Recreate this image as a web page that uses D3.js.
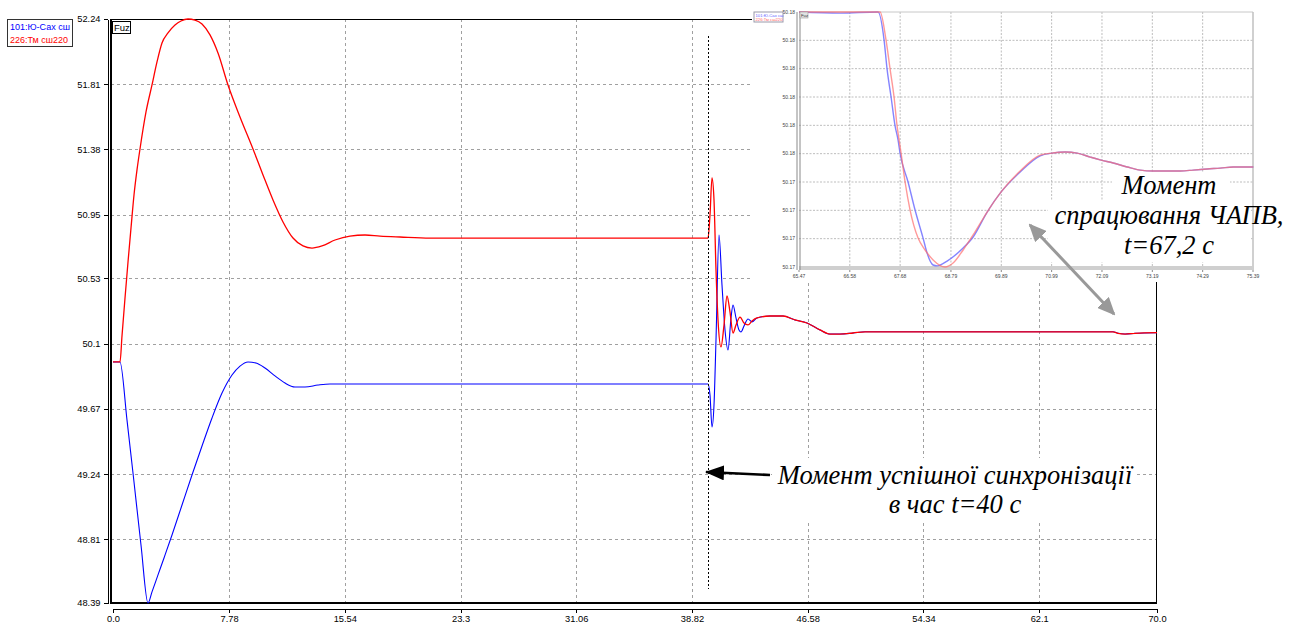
<!DOCTYPE html>
<html><head><meta charset="utf-8">
<script src="https://cdn.jsdelivr.net/npm/d3@7"></script>
<style>body{margin:0;background:#fff}svg{display:block}</style>
</head><body><svg id="c" width="1294" height="625"></svg>
<script>
// ---------- data ----------
const seriesNames = ["101:Ю-Сах сш", "226:Тм сш220"];
const seriesColors = ["#0000ff", "#ff0000"];
const xTicks = [0, 7.78, 15.54, 23.3, 31.06, 38.82, 46.58, 54.34, 62.1, 70.0];
const yTicks = [48.39, 48.81, 49.24, 49.67, 50.1, 50.53, 50.95, 51.38, 51.81, 52.24];

const commonTail = [[43.181,50.269],[44.052,50.282],[44.924,50.282],[45.729,50.256],[46.533,50.236],[47.405,50.19],[48.076,50.163],[48.746,50.163],[49.618,50.17],[50.422,50.178],[67.05,50.178],[67.39,50.168],[67.86,50.163],[68.53,50.168],[70,50.172]];

const blueData = [[0,49.979],[0.469,49.979],[0.939,49.596],[1.408,49.188],[1.877,48.772],[2.347,48.39],[2.615,48.463],[3.017,48.575],[3.42,48.687],[3.956,48.838],[4.627,49.036],[5.297,49.234],[5.968,49.425],[6.638,49.61],[7.309,49.774],[7.979,49.893],[8.515,49.952],[9.052,49.979],[9.588,49.972],[10.192,49.939],[10.862,49.887],[11.533,49.84],[12.203,49.814],[12.874,49.814],[13.746,49.827],[14.55,49.834],[39.895,49.834],
[40.029,49.761],[40.163,49.55],[40.297,49.695],[40.431,50.124],[40.632,50.816],[40.833,50.486],[41.035,50.19],[41.236,50.058],[41.437,50.269],[41.571,50.355],[41.772,50.269],[41.973,50.19],[42.107,50.177],[42.309,50.216],[42.577,50.262],[42.845,50.243]];

const redData = [[0,49.979],[0.469,49.979],[0.603,50.15],[0.805,50.401],[1.006,50.638],[1.207,50.862],[1.408,51.08],[1.609,51.245],[1.81,51.383],[2.213,51.627],[2.615,51.805],[2.95,51.957],[3.285,52.082],[3.688,52.148],[4.157,52.2],[4.559,52.227],[5.029,52.24],[5.498,52.233],[5.968,52.207],[6.504,52.135],[7.04,52.016],[7.711,51.805],[8.515,51.594],[9.387,51.383],[10.058,51.212],[10.728,51.047],[11.399,50.902],[12.069,50.796],[12.74,50.744],[13.343,50.73],[14.014,50.744],[14.886,50.783],[15.891,50.809],[16.897,50.816],[17.903,50.809],[19.244,50.803],[21.256,50.796],[39.895,50.796],
[40.029,50.948],[40.163,51.192],[40.297,51.047],[40.431,50.585],[40.566,50.256],[40.767,50.078],[40.968,50.223],[41.169,50.414],[41.37,50.308],[41.571,50.17],[41.772,50.223],[42.041,50.275],[42.309,50.236],[42.577,50.223],[42.845,50.249]];

// inset (zoomed) chart
const insetXTicks = [65.47, 66.58, 67.68, 68.79, 69.89, 70.99, 72.09, 73.19, 74.29, 75.39];
const insetYTicks = [50.1716, 50.1726, 50.1736, 50.1746, 50.1756, 50.1766, 50.1776, 50.1786, 50.1796, 50.1806];
const insetTail = [[71.002,50.17562],[71.286,50.17566],[71.548,50.17562],[71.833,50.17548],[72.051,50.17538],[72.336,50.17527],[72.642,50.17513],[72.926,50.17502],[73.21,50.17499],[73.516,50.17499],[73.801,50.17499],[74.085,50.17502],[74.391,50.17506],[74.675,50.17509],[74.959,50.17513],[75.397,50.17513]];
const insetBlue = [[65.47,50.1806],[66.366,50.18056],[67.197,50.1806],[67.329,50.17961],[67.394,50.17859],[67.482,50.1776],[67.569,50.17658],[67.635,50.17608],[67.678,50.17562],[67.853,50.1746],[68.006,50.17361],[68.181,50.17262],[68.269,50.17209],[68.4,50.17167],[68.487,50.17164],[68.706,50.17181],[69.056,50.17227],[69.275,50.17266],[69.581,50.17354],[69.887,50.17425],[70.302,50.17495],[70.74,50.17552]];
const insetRed = [[65.47,50.1806],[66.366,50.1806],[67.241,50.1806],[67.372,50.17961],[67.46,50.17859],[67.547,50.1776],[67.613,50.17658],[67.657,50.17608],[67.7,50.17562],[67.788,50.1746],[67.897,50.17361],[68.072,50.17262],[68.225,50.1722],[68.4,50.17185],[68.662,50.1716],[68.837,50.17174],[69.056,50.1722],[69.275,50.17273],[69.581,50.17354],[69.887,50.17425],[70.302,50.17499],[70.74,50.17555]];

const syncTime = 39.9;
const annoSync = ["Момент успішної синхронізації", "в час t=40 с"];
const annoAPV = ["Момент", "спрацювання ЧАПВ,", "t=67,2 с"];

// ---------- drawing ----------
const svg = d3.select("#c");
svg.append("rect").attr("width",1294).attr("height",625).attr("fill","#fff");
const defs = svg.append("defs");
defs.append("marker").attr("id","ah").attr("markerUnits","userSpaceOnUse")
  .attr("markerWidth",19).attr("markerHeight",15).attr("refX",18).attr("refY",7.5).attr("orient","auto")
  .append("path").attr("d","M0,0 L19,7.5 L0,15 z").attr("fill","#000");
defs.append("marker").attr("id","gh").attr("markerUnits","userSpaceOnUse")
  .attr("markerWidth",18).attr("markerHeight",16).attr("refX",16).attr("refY",8).attr("orient","auto-start-reverse")
  .append("path").attr("d","M0,0 L18,8 L0,16 z").attr("fill","#999");

const x = d3.scaleLinear().domain([0,70]).range([113,1157]);
const y = d3.scaleLinear().domain([48.39,52.24]).range([603,19]);
const fmt = v => Number.isInteger(v) ? v.toFixed(1) : String(v);
const FONT = "'Liberation Sans', Arial, sans-serif";

// grid
const g = svg.append("g").attr("shape-rendering","crispEdges");
g.selectAll(".vg").data(xTicks.slice(1,-1)).join("line")
  .attr("x1",d=>Math.round(x(d))+0.5).attr("x2",d=>Math.round(x(d))+0.5).attr("y1",19).attr("y2",603)
  .attr("stroke","#a0a0a0").attr("stroke-dasharray","3,3");
g.selectAll(".hg").data(yTicks.slice(1,-1)).join("line")
  .attr("x1",111).attr("x2",1157).attr("y1",d=>Math.round(y(d))+0.5).attr("y2",d=>Math.round(y(d))+0.5)
  .attr("stroke","#a0a0a0").attr("stroke-dasharray","3,3");

// frame
const fr = svg.append("g").attr("shape-rendering","crispEdges");
fr.append("rect").attr("x",111.5).attr("y",19.5).attr("width",1045).attr("height",584)
  .attr("fill","none").attr("stroke","#000").attr("stroke-width",1);
fr.append("line").attr("x1",111).attr("x2",111).attr("y1",19).attr("y2",604).attr("stroke","#000").attr("stroke-width",2);
fr.append("line").attr("x1",111).attr("x2",1157).attr("y1",603).attr("y2",603).attr("stroke","#000").attr("stroke-width",2);

// axes
const ya = svg.append("g").attr("transform","translate(107.5,0)")
  .call(d3.axisLeft(y).tickValues(yTicks).tickFormat(fmt).tickSize(4).tickSizeOuter(0));
const xa = svg.append("g").attr("transform","translate(0,608.5)")
  .call(d3.axisBottom(x).tickValues(xTicks).tickFormat(fmt).tickSize(4).tickSizeOuter(0));
[ya,xa].forEach(a=>{a.selectAll("text").attr("font-family",FONT).attr("font-size",9.3).attr("fill","#000");
  a.selectAll("line,path").attr("stroke","#000").attr("shape-rendering","crispEdges");});
xa.selectAll("text").attr("y",7);

// lines
const line = d3.line().x(d=>x(d[0])).y(d=>y(d[1])).curve(d3.curveMonotoneX);
svg.append("path").datum(blueData.concat(commonTail)).attr("d",line).attr("fill","none").attr("stroke",seriesColors[0]).attr("stroke-width",1.1);
svg.append("path").datum(redData.concat(commonTail)).attr("d",line).attr("fill","none").attr("stroke",seriesColors[1]).attr("stroke-width",1.3);

// legend
svg.append("rect").attr("x",7.5).attr("y",19.5).attr("width",65).attr("height",27).attr("fill","#fff").attr("stroke","#333").attr("shape-rendering","crispEdges");
seriesNames.forEach((n,i)=>svg.append("text").attr("x",10).attr("y",30+i*12.5).text(n)
  .attr("font-family",FONT).attr("font-size",9).attr("fill",seriesColors[i]));
// Fuz box
svg.append("rect").attr("x",112.5).attr("y",21.5).attr("width",18).attr("height",12).attr("fill","#fff").attr("stroke","#000").attr("shape-rendering","crispEdges");
svg.append("text").attr("x",114).attr("y",31).text("Fuz").attr("font-family",FONT).attr("font-size",9.5);

// sync dotted line
svg.append("line").attr("x1",Math.round(x(syncTime))+0.5).attr("x2",Math.round(x(syncTime))+0.5).attr("y1",y(52.13)).attr("y2",y(48.48))
  .attr("stroke","#000").attr("stroke-dasharray","2,2").attr("shape-rendering","crispEdges");

// ---------- inset ----------
const ins = svg.append("g");
ins.append("rect").attr("x",752).attr("y",0).attr("width",504).attr("height",282).attr("fill","#fff");
const xi = d3.scaleLinear().domain([65.47,75.39]).range([799,1253]);
const yi = d3.scaleLinear().domain([50.1716,50.1806]).range([267,12]);
ins.selectAll(".ivg").data(insetXTicks.slice(1,-1)).join("line")
  .attr("x1",d=>xi(d)).attr("x2",d=>xi(d)).attr("y1",12).attr("y2",267)
  .attr("stroke","#bdbdbd").attr("stroke-dasharray","2,1.5");
ins.selectAll(".ihg").data(insetYTicks.slice(1,-1)).join("line")
  .attr("x1",799).attr("x2",1253).attr("y1",d=>yi(d)).attr("y2",d=>yi(d))
  .attr("stroke","#bdbdbd").attr("stroke-dasharray","2,1.5");
ins.append("line").attr("x1",799).attr("x2",1253).attr("y1",12).attr("y2",12).attr("stroke","#c8c8c8");
ins.append("line").attr("x1",1253).attr("x2",1253).attr("y1",12).attr("y2",270).attr("stroke","#c0c0c0").attr("stroke-width",1.5);
ins.append("rect").attr("x",799).attr("y",266).attr("width",455).attr("height",4).attr("fill","#cfcfcf");
[797,800].forEach(px=>ins.append("line").attr("x1",px).attr("x2",px).attr("y1",12).attr("y2",270).attr("stroke","#8a8a8a"));
ins.selectAll(".iyl").data(insetYTicks).join("text").attr("x",795).attr("y",d=>yi(d)).attr("dy","0.35em")
  .attr("text-anchor","end").attr("font-family",FONT).attr("font-size",5).attr("fill","#444").text(d=>d.toFixed(2));
ins.selectAll(".ixt").data(insetXTicks).join("line").attr("x1",d=>xi(d)).attr("x2",d=>xi(d)).attr("y1",270).attr("y2",272).attr("stroke","#888");
ins.selectAll(".ixl").data(insetXTicks).join("text").attr("x",d=>xi(d)).attr("y",277.5)
  .attr("text-anchor","middle").attr("font-family",FONT).attr("font-size",5).attr("fill","#444").text(d=>d.toFixed(2));
const iline = d3.line().x(d=>xi(d[0])).y(d=>yi(d[1])).curve(d3.curveMonotoneX);
ins.append("path").datum(insetBlue.concat(insetTail)).attr("d",iline).attr("fill","none").attr("stroke","rgb(110,110,255)").attr("stroke-width",1.4).attr("opacity",0.85);
ins.append("path").datum(insetRed.concat(insetTail)).attr("d",iline).attr("fill","none").attr("stroke","rgb(255,110,110)").attr("stroke-width",1.4).attr("opacity",0.7);
// inset legend + Fuz
ins.append("rect").attr("x",754).attr("y",12).attr("width",29).attr("height",10).attr("fill","#fff").attr("stroke","#99a");
seriesNames.forEach((n,i)=>ins.append("text").attr("x",755.5).attr("y",16.5+i*4.5).text(n)
  .attr("font-family",FONT).attr("font-size",4.2).attr("fill",i?"#f66":"#66f"));
ins.append("rect").attr("x",800).attr("y",12).attr("width",8).attr("height",6).attr("fill","#e2e2e2").attr("stroke","#999").attr("stroke-width",0.6);
ins.append("text").attr("x",801).attr("y",16.6).text("Fuz").attr("font-family",FONT).attr("font-size",4.2).attr("fill","#333");

// ---------- annotations ----------
const SERIF = "'Liberation Serif','Times New Roman',serif";
svg.append("rect").attr("x",772).attr("y",458).attr("width",365).attr("height",62).attr("fill","#fff");
annoSync.forEach((t,i)=>svg.append("text").attr("x",955).attr("y",484+i*29).attr("text-anchor","middle")
  .attr("font-family",SERIF).attr("font-style","italic").attr("font-size",26.5).text(t));
svg.append("line").attr("x1",770).attr("y1",475).attr("x2",706).attr("y2",472)
  .attr("stroke","#000").attr("stroke-width",2.5).attr("marker-end","url(#ah)");

svg.append("rect").attr("x",1112).attr("y",172).attr("width",118).attr("height",28).attr("fill","#fff");
svg.append("rect").attr("x",1048).attr("y",200).attr("width",203).attr("height",62).attr("fill","#fff");
annoAPV.forEach((t,i)=>svg.append("text").attr("x",1169).attr("y",194+i*30).attr("text-anchor","middle")
  .attr("font-family",SERIF).attr("font-style","italic").attr("font-size",26.5).text(t));
svg.append("line").attr("x1",1030).attr("y1",225).attr("x2",1114).attr("y2",314)
  .attr("stroke","#999").attr("stroke-width",3).attr("marker-start","url(#gh)").attr("marker-end","url(#gh)");
</script></body></html>
